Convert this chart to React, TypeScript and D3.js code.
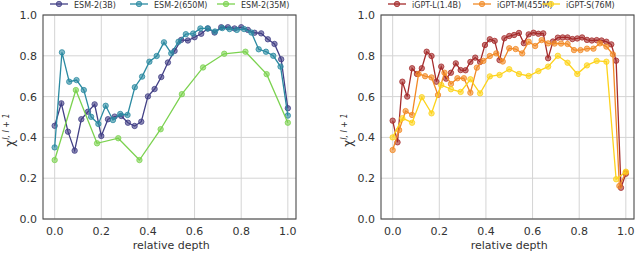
import React from "react";
import * as d3 from "d3";

// chi^{l,l+1} per layer
const esm3B = [
  0.457, 0.567, 0.428, 0.335, 0.489, 0.526, 0.562, 0.407, 0.489, 0.502, 0.505, 0.472,
  0.456, 0.477, 0.601, 0.637, 0.696, 0.767, 0.824, 0.878, 0.875, 0.891, 0.908, 0.934,
  0.914, 0.94, 0.94, 0.934, 0.94, 0.927, 0.913, 0.91, 0.881, 0.858, 0.783, 0.543,
];
const esm650M = [
  0.351, 0.817, 0.673, 0.681, 0.632, 0.501, 0.466, 0.555, 0.485, 0.515, 0.51, 0.646,
  0.698, 0.771, 0.799, 0.866, 0.812, 0.869, 0.906, 0.909, 0.934, 0.934, 0.919, 0.936,
  0.931, 0.927, 0.931, 0.914, 0.832, 0.82, 0.8, 0.747, 0.507,
];
const esm35M = [0.289, 0.632, 0.371, 0.396, 0.289, 0.44, 0.612, 0.743, 0.81, 0.82, 0.71, 0.472];

const igptL = [
  0.482, 0.376, 0.673, 0.6, 0.739, 0.711, 0.739, 0.82, 0.799, 0.673, 0.747, 0.688, 0.717,
  0.763, 0.73, 0.729, 0.77, 0.791, 0.77, 0.853, 0.881, 0.873, 0.779, 0.886, 0.897, 0.902,
  0.912, 0.862, 0.905, 0.913, 0.908, 0.91, 0.788, 0.87, 0.889, 0.89, 0.89, 0.882, 0.885,
  0.89, 0.878, 0.875, 0.877, 0.875, 0.869, 0.856, 0.776, 0.153, 0.222,
];
const igptM = [
  0.338, 0.436, 0.529, 0.51, 0.711, 0.7, 0.694, 0.608, 0.717, 0.662, 0.69, 0.69, 0.619,
  0.742, 0.775, 0.799, 0.812, 0.772, 0.837, 0.833, 0.812, 0.869, 0.848, 0.877, 0.861,
  0.86, 0.86, 0.858, 0.828, 0.828, 0.835, 0.835, 0.861, 0.845, 0.807, 0.162, 0.228,
];
const igptS = [
  0.4, 0.494, 0.472, 0.597, 0.518, 0.657, 0.636, 0.623, 0.685, 0.616, 0.699, 0.706, 0.734,
  0.711, 0.701, 0.725, 0.747, 0.8, 0.766, 0.711, 0.753, 0.775, 0.771, 0.195, 0.232,
];

const esmNames = ["ESM-2(3B)", "ESM-2(650M)", "ESM-2(35M)"];
const igptNames = ["iGPT-L(1.4B)", "iGPT-M(455M)", "iGPT-S(76M)"];
const esmColors = ["#424086", "#2b8aa1", "#7bd24f"];
const igptColors = ["#a52b2b", "#f28a26", "#fdd31c"];
const tickValues = [0, 0.2, 0.4, 0.6, 0.8, 1.0];

interface Series {
  name: string;
  color: string;
  values: number[];
}

interface PanelProps {
  left: number;
  series: Series[];
  legendX: number[];
}

const FONT = "DejaVu Sans, sans-serif";
const TEXT = "#333";

const Panel: React.FC<PanelProps> = ({ left, series, legendX }) => {
  const width = 253;
  const top = 15;
  const bottom = 219;
  const x = d3.scaleLinear().domain([-0.05, 1.035]).range([left, left + width]);
  const y = d3.scaleLinear().domain([0, 1]).range([bottom, top]);

  return (
    <g>
      {/* grid */}
      {tickValues.map((t) => (
        <g key={"g" + t}>
          <line x1={x(t)} x2={x(t)} y1={top} y2={bottom} stroke="#d4d4d4" strokeWidth={1} />
          <line x1={left} x2={left + width} y1={y(t)} y2={y(t)} stroke="#d4d4d4" strokeWidth={1} />
        </g>
      ))}

      {/* series */}
      {series.map((s) => {
        const n = s.values.length;
        const pts = s.values.map((v, i) => [i / (n - 1), v] as [number, number]);
        const line = d3
          .line<[number, number]>()
          .x((d) => x(d[0]))
          .y((d) => y(d[1]));
        return (
          <g key={s.name}>
            <path d={line(pts) || ""} fill="none" stroke={s.color} strokeWidth={1.3} />
            {pts.map((p, i) => (
              <circle
                key={i}
                cx={x(p[0])}
                cy={y(p[1])}
                r={2.7}
                fill={s.color}
                fillOpacity={0.6}
                stroke={s.color}
                strokeWidth={0.8}
              />
            ))}
          </g>
        );
      })}

      {/* frame */}
      <rect
        x={left}
        y={top}
        width={width}
        height={bottom - top}
        fill="none"
        stroke="#4a4a4a"
        strokeWidth={1.1}
      />

      {/* tick labels */}
      {tickValues.map((t) => (
        <text
          key={"xt" + t}
          x={x(t)}
          y={234.5}
          textAnchor="middle"
          fontSize={11}
          fontFamily={FONT}
          fill={TEXT}
        >
          {t.toFixed(1)}
        </text>
      ))}
      {tickValues.map((t) => (
        <text
          key={"yt" + t}
          x={left - 6}
          y={y(t) + 4}
          textAnchor="end"
          fontSize={11}
          fontFamily={FONT}
          fill={TEXT}
        >
          {t.toFixed(1)}
        </text>
      ))}

      <text
        x={x(0.5)}
        y={249}
        textAnchor="middle"
        fontSize={11}
        fontFamily={FONT}
        fill={TEXT}
      >
        relative depth
      </text>

      {/* y label */}
      <text
        transform={`translate(${left - 29}, 130) rotate(-90)`}
        textAnchor="middle"
        fontSize={12}
        fontFamily={FONT}
        fill={TEXT}
      >
        χ
        <tspan fontSize={8} dy={-5} fontStyle="italic">
          l, l + 1
        </tspan>
      </text>

      {/* legend */}
      {series.map((s, i) => (
        <g key={"lg" + s.name}>
          <line
            x1={legendX[i]}
            x2={legendX[i] + 18}
            y1={4}
            y2={4}
            stroke={s.color}
            strokeWidth={1.3}
          />
          <circle
            cx={legendX[i] + 9}
            cy={4}
            r={2.7}
            fill={s.color}
            fillOpacity={0.6}
            stroke={s.color}
            strokeWidth={0.8}
          />
          <text x={legendX[i] + 24} y={7.5} fontSize={8} fontFamily={FONT} fill={TEXT}>
            {s.name}
          </text>
        </g>
      ))}
    </g>
  );
};

export default function App() {
  const esm: Series[] = [esm3B, esm650M, esm35M].map((values, i) => ({
    name: esmNames[i],
    color: esmColors[i],
    values,
  }));
  const igpt: Series[] = [igptL, igptM, igptS].map((values, i) => ({
    name: igptNames[i],
    color: igptColors[i],
    values,
  }));

  return (
    <div style={{ position: "absolute", left: 0, top: 0 }}>
      <svg width={640} height={253} style={{ display: "block", background: "#fff" }}>
        <Panel left={43} series={esm} legendX={[50, 130, 217]} />
        <Panel left={381} series={igpt} legendX={[388, 473, 542]} />
      </svg>
    </div>
  );
}
